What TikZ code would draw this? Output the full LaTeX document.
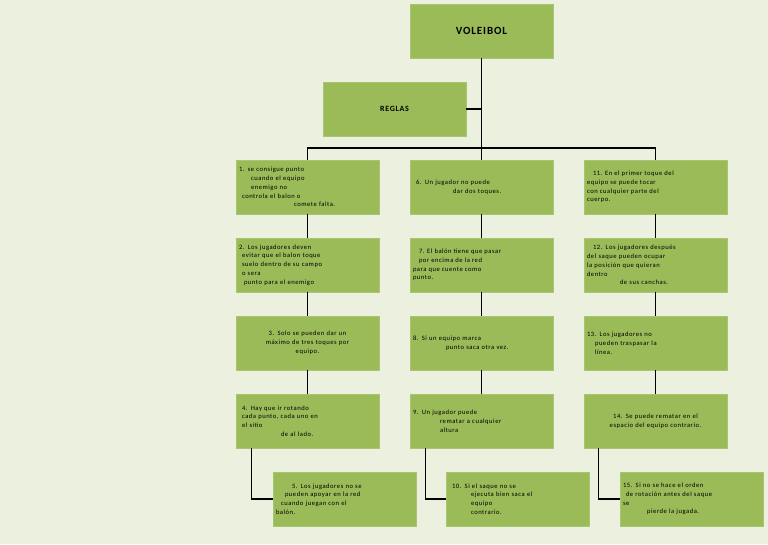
\documentclass[tikz,border=0pt]{standalone}
\usepackage{fontspec}
\setmainfont{Carlito}[LetterSpace=8]
\usepackage{xcolor}
\definecolor{verde}{HTML}{9BBB59}
\definecolor{fondo}{HTML}{EBF0DF}
\tikzset{
  regla/.style={rectangle, draw=verde!85!white, fill=verde, minimum width=143pt, minimum height=54pt,
    inner sep=2pt, text width=137pt, font=\fontsize{6.6}{8.8}\selectfont, align=left},
  linea/.style={draw=black, line width=1.2pt}
}

\begin{document}
\begin{tikzpicture}[x=1pt, y=-1pt]
  \fill[fondo] (0,0) rectangle (768,544);
  \useasboundingbox (0,0) rectangle (768,544);

  \node[regla, align=center, font=\fontsize{11}{13}\selectfont\bfseries] (voleibol) at (481.5,31) {VOLEIBOL};
  \node[regla, align=center, font=\fontsize{8}{10}\selectfont\bfseries] (reglas) at (394.5,109) {REGLAS};

  % columna 1
  \node[regla] (r1) at (307.5,187) {1. se consigue punto\\\hspace*{12pt}cuando el equipo\\\hspace*{12pt}enemigo no\\\hspace*{3pt}controla el balon o\\\hspace*{55pt}comete falta.};
  \node[regla] (r2) at (307.5,265) {2. Los jugadores deven\\\hspace*{3pt}evitar que el balon toque\\\hspace*{3pt}suelo dentro de su campo\\\hspace*{3pt}o sera\\\hspace*{5pt}punto para el enemigo};
  \node[regla, align=center] (r3) at (307.5,343) {3. Solo se pueden dar un\\máximo de tres toques por\\equipo.};
  \node[regla] (r4) at (307.5,421) {\hspace*{3pt}4. Hay que ir rotando\\\hspace*{3pt}cada punto, cada uno en\\\hspace*{3pt}el sitio\\\hspace*{42pt}de al lado.};
  \node[regla] (r5) at (344.5,499) {\hspace*{16pt}5. Los jugadores no se\\\hspace*{9pt}pueden apoyar en la red\\\hspace*{5pt}cuando juegan con el\\balón.};

  % columna 2
  \node[regla] (r6) at (481.5,187) {\hspace*{3pt}6. Un jugador no puede\\\hspace*{40pt}dar dos toques.};
  \node[regla, align=justify] (r7) at (481.5,265) {\hspace*{6pt}7. El balón tiene que pasar\\\hspace*{6pt}por encima de la red\\para que cuente como\\punto.};
  \node[regla] (r8) at (481.5,343) {8. Si un equipo marca\\\hspace*{33pt}punto saca otra vez.};
  \node[regla] (r9) at (481.5,421) {9. Un jugador puede\\\hspace*{27pt}rematar a cualquier\\\hspace*{27pt}altura};
  \node[regla] (r10) at (517.5,499) {\hspace*{3pt}10. Si el saque no se\\\hspace*{22pt}ejecuta bien saca el\\\hspace*{22pt}equipo\\\hspace*{22pt}contrario.};

  % columna 3
  \node[regla, align=justify] (r11) at (655.5,187) {\hspace*{6pt}11. En el primer toque del\\equipo se puede tocar\\con cualquier parte del\\cuerpo.};
  \node[regla] (r12) at (655.5,265) {\hspace*{6pt}12. Los jugadores después\\del saque pueden ocupar\\la posición que quieran\\dentro\\\hspace*{33pt}de sus canchas.};
  \node[regla] (r13) at (655.5,343) {13. Los jugadores no\\\hspace*{8pt}pueden traspasar la\\\hspace*{8pt}línea.};
  \node[regla, align=center] (r14) at (655.5,421) {14. Se puede rematar en el\\espacio del equipo contrario.};
  \node[regla] (r15) at (691.5,499) {15. Si no se hace el orden\\\hspace*{3pt}de rotación antes del saque\\se\\\hspace*{24pt}pierde la jugada.};

  % conectores
  \coordinate (bar) at (481.5,148);
  \draw[linea] (voleibol.south) -- (bar);
  \draw[linea] (reglas.east) -- (reglas.east -| voleibol.south);
  \draw[linea] (r1.north) |- (bar) -| (r11.north);
  \draw[linea] (bar) -- (r6.north);
  \foreach \a/\b in {r1/r2, r2/r3, r3/r4, r6/r7, r7/r8, r8/r9, r11/r12, r12/r13, r13/r14}
    \draw[linea] (\a.south) -- (\b.north);
  \draw[linea] ([xshift=-56pt]r4.south) |- (r5.west);
  \draw[linea] ([xshift=-56pt]r9.south) |- (r10.west);
  \draw[linea] ([xshift=-57pt]r14.south) |- (r15.west);
\end{tikzpicture}
\end{document}
